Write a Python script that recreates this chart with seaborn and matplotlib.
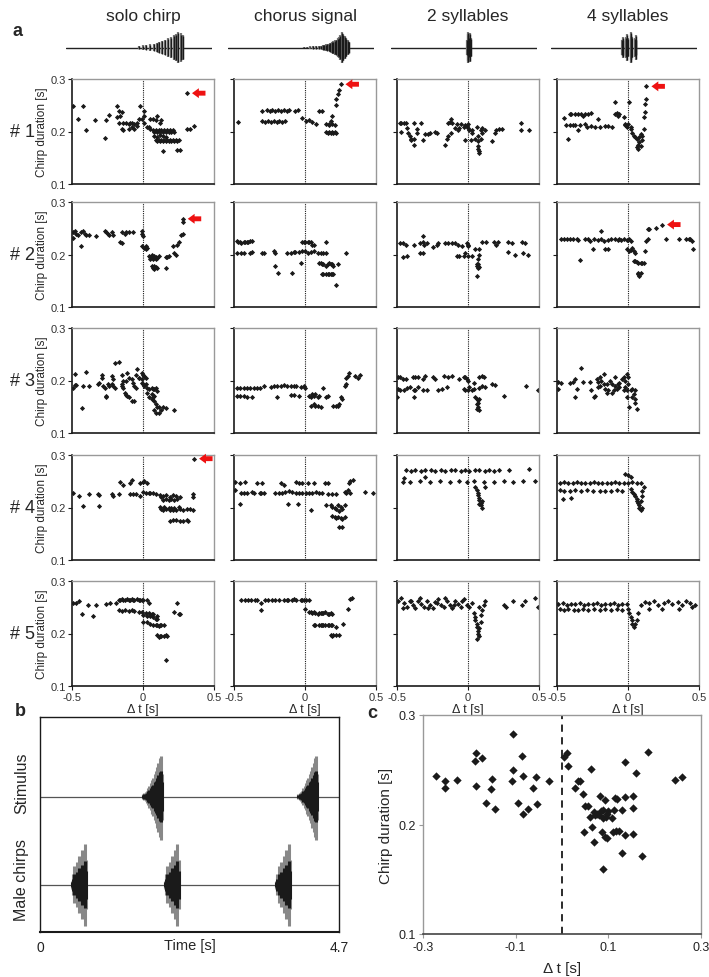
import matplotlib
matplotlib.use('Agg')
import matplotlib.pyplot as plt
import seaborn as sns
import pandas as pd

sns.set_theme(style='white')
plt.rcParams['font.family'] = ['Liberation Sans', 'DejaVu Sans']

# ---------------- data ----------------
stimuli = ['solo chirp', 'chorus signal', '2 syllables', '4 syllables']
males = ['# 1', '# 2', '# 3', '# 4', '# 5']

# oscillograms above panel a (relative time 0..1, relative amplitude)
wave_solo_t = [0.50, 0.525, 0.55, 0.575, 0.60, 0.62, 0.64, 0.66, 0.68, 0.70, 0.72, 0.74, 0.755, 0.77, 0.785, 0.80]
wave_solo_a = [0.10, 0.14, 0.16, 0.20, 0.24, 0.30, 0.36, 0.44, 0.52, 0.60, 0.70, 0.80, 0.90, 1.00, 0.92, 0.80]
wave_chorus_t = [0.52, 0.54, 0.56, 0.58, 0.60, 0.62, 0.635, 0.65, 0.66, 0.67, 0.68, 0.69, 0.70, 0.71, 0.72,
                 0.73, 0.74, 0.75, 0.76, 0.77, 0.78, 0.79, 0.80, 0.81, 0.82, 0.83]
wave_chorus_a = [0.04, 0.05, 0.07, 0.08, 0.10, 0.12, 0.13, 0.16, 0.18, 0.20, 0.24, 0.26, 0.30, 0.36, 0.42,
                 0.46, 0.52, 0.60, 0.70, 0.82, 1.00, 0.86, 0.74, 0.60, 0.48, 0.36]
wave_2syl_t = [0.52, 0.525, 0.53, 0.535, 0.54, 0.545]
wave_2syl_a = [0.50, 0.90, 1.00, 0.70, 0.95, 0.60]
wave_4syl_t = [0.485, 0.49, 0.495, 0.515, 0.52, 0.525, 0.545, 0.55, 0.555, 0.575, 0.58, 0.585]
wave_4syl_a = [0.50, 0.70, 0.55, 0.70, 0.90, 0.60, 0.80, 1.00, 0.70, 0.60, 0.80, 0.50]

# panel a scatter data: (delta t [s], chirp duration [s])
solo1 = [(-0.49, 0.249), (-0.46, 0.223), (-0.42, 0.249), (-0.40, 0.203), (-0.34, 0.222), (-0.27, 0.187),
         (-0.26, 0.222), (-0.24, 0.232), (-0.18, 0.249), (-0.17, 0.240), (-0.16, 0.230), (-0.15, 0.237),
         (-0.18, 0.227), (-0.17, 0.217), (-0.14, 0.217), (-0.12, 0.217), (-0.10, 0.214), (-0.09, 0.217),
         (-0.08, 0.217), (-0.06, 0.214), (-0.04, 0.217), (-0.03, 0.224), (-0.02, 0.249), (-0.01, 0.224),
         (-0.15, 0.205), (-0.14, 0.202), (-0.10, 0.205), (-0.08, 0.208), (-0.06, 0.205), (-0.04, 0.211),
         (0.01, 0.240), (0.01, 0.230), (0.01, 0.217), (0.03, 0.208), (0.04, 0.208), (0.05, 0.224),
         (0.07, 0.224), (0.09, 0.221), (0.10, 0.230), (0.12, 0.217), (0.13, 0.221), (0.05, 0.205),
         (0.07, 0.202), (0.08, 0.200), (0.09, 0.202), (0.10, 0.200), (0.11, 0.202), (0.12, 0.200),
         (0.13, 0.202), (0.14, 0.200), (0.15, 0.202), (0.16, 0.200), (0.17, 0.203), (0.18, 0.200),
         (0.19, 0.202), (0.20, 0.200), (0.21, 0.203), (0.22, 0.200), (0.08, 0.192), (0.10, 0.190),
         (0.12, 0.193), (0.14, 0.191), (0.16, 0.190), (0.09, 0.183), (0.10, 0.181), (0.11, 0.183),
         (0.12, 0.181), (0.13, 0.183), (0.14, 0.181), (0.15, 0.183), (0.16, 0.181), (0.17, 0.183),
         (0.18, 0.181), (0.19, 0.183), (0.20, 0.181), (0.21, 0.183), (0.22, 0.181), (0.23, 0.183),
         (0.24, 0.181), (0.25, 0.183), (0.14, 0.162), (0.24, 0.165), (0.26, 0.165), (0.31, 0.205),
         (0.33, 0.205), (0.36, 0.211), (0.31, 0.273)]
chorus1 = [(-0.47, 0.218), (-0.30, 0.240), (-0.27, 0.241), (-0.25, 0.240), (-0.23, 0.241), (-0.21, 0.240),
           (-0.19, 0.241), (-0.17, 0.240), (-0.15, 0.241), (-0.13, 0.240), (-0.11, 0.241), (-0.07, 0.240),
           (-0.05, 0.241), (-0.30, 0.220), (-0.28, 0.219), (-0.26, 0.220), (-0.24, 0.219), (-0.22, 0.220),
           (-0.20, 0.219), (-0.18, 0.220), (-0.16, 0.219), (-0.14, 0.220), (-0.02, 0.225), (0.01, 0.220),
           (0.03, 0.222), (0.05, 0.218), (0.08, 0.215), (0.10, 0.240), (0.12, 0.240), (0.15, 0.215),
           (0.17, 0.212), (0.18, 0.220), (0.19, 0.230), (0.15, 0.200), (0.16, 0.198), (0.17, 0.200),
           (0.18, 0.197), (0.19, 0.200), (0.20, 0.198), (0.21, 0.200), (0.22, 0.197), (0.17, 0.215),
           (0.19, 0.215), (0.21, 0.213), (0.22, 0.250), (0.22, 0.262), (0.23, 0.272), (0.24, 0.280),
           (0.25, 0.290)]
syl2_1 = [(-0.48, 0.217), (-0.47, 0.217), (-0.45, 0.217), (-0.44, 0.217), (-0.47, 0.200), (-0.43, 0.206),
          (-0.42, 0.198), (-0.41, 0.192), (-0.40, 0.186), (-0.40, 0.183), (-0.38, 0.174), (-0.38, 0.186),
          (-0.38, 0.216), (-0.36, 0.205), (-0.36, 0.198), (-0.33, 0.216), (-0.32, 0.184), (-0.30, 0.195),
          (-0.28, 0.195), (-0.27, 0.198), (-0.23, 0.200), (-0.22, 0.198), (-0.16, 0.174), (-0.15, 0.186),
          (-0.14, 0.192), (-0.14, 0.216), (-0.13, 0.219), (-0.12, 0.224), (-0.11, 0.217), (-0.12, 0.198),
          (-0.09, 0.206), (-0.08, 0.214), (-0.07, 0.203), (-0.06, 0.206), (-0.05, 0.214), (-0.03, 0.208),
          (-0.02, 0.212), (-0.01, 0.211), (-0.02, 0.183), (0.00, 0.206), (0.00, 0.214), (0.01, 0.202),
          (0.02, 0.183), (0.03, 0.202), (0.03, 0.198), (0.05, 0.186), (0.06, 0.208), (0.07, 0.192),
          (0.07, 0.181), (0.07, 0.173), (0.07, 0.167), (0.08, 0.160), (0.08, 0.163), (0.09, 0.203),
          (0.09, 0.186), (0.10, 0.206), (0.10, 0.198), (0.12, 0.203), (0.17, 0.181), (0.19, 0.198),
          (0.20, 0.202), (0.22, 0.205), (0.24, 0.205), (0.37, 0.216), (0.37, 0.203), (0.43, 0.203)]
syl4_1 = [(-0.45, 0.225), (-0.44, 0.213), (-0.42, 0.186), (-0.41, 0.213), (-0.39, 0.212), (-0.37, 0.212),
          (-0.35, 0.203), (-0.34, 0.212), (-0.41, 0.233), (-0.40, 0.233), (-0.37, 0.233), (-0.35, 0.233),
          (-0.33, 0.233), (-0.30, 0.233), (-0.28, 0.233), (-0.26, 0.235), (-0.32, 0.229), (-0.30, 0.214),
          (-0.29, 0.208), (-0.26, 0.211), (-0.23, 0.208), (-0.21, 0.224), (-0.20, 0.208), (-0.16, 0.210),
          (-0.14, 0.211), (-0.11, 0.208), (-0.09, 0.233), (-0.09, 0.256), (-0.08, 0.235), (-0.07, 0.230),
          (-0.06, 0.233), (-0.03, 0.227), (-0.02, 0.212), (-0.02, 0.214), (-0.01, 0.208), (0.00, 0.214),
          (0.01, 0.256), (0.02, 0.208), (0.02, 0.205), (0.03, 0.198), (0.04, 0.192), (0.05, 0.189),
          (0.06, 0.186), (0.06, 0.170), (0.07, 0.167), (0.07, 0.175), (0.08, 0.180), (0.09, 0.173),
          (0.08, 0.190), (0.09, 0.195), (0.10, 0.183), (0.10, 0.192), (0.11, 0.205), (0.11, 0.227),
          (0.12, 0.237), (0.12, 0.252), (0.13, 0.262), (0.13, 0.286)]

solo2 = [(-0.49, 0.242), (-0.48, 0.245), (-0.47, 0.240), (-0.46, 0.238), (-0.44, 0.242), (-0.42, 0.245),
         (-0.41, 0.240), (-0.40, 0.238), (-0.38, 0.238), (-0.33, 0.235), (-0.27, 0.245), (-0.26, 0.242),
         (-0.25, 0.240), (-0.24, 0.238), (-0.22, 0.242), (-0.21, 0.238), (-0.15, 0.243), (-0.13, 0.240),
         (-0.12, 0.243), (-0.10, 0.243), (-0.07, 0.243), (-0.49, 0.232), (-0.44, 0.216), (-0.16, 0.223),
         (-0.15, 0.221), (-0.01, 0.245), (-0.01, 0.240), (0.00, 0.235), (-0.01, 0.216), (0.01, 0.213),
         (0.02, 0.216), (0.03, 0.213), (0.02, 0.210), (0.04, 0.198), (0.05, 0.196), (0.06, 0.199),
         (0.07, 0.195), (0.08, 0.198), (0.09, 0.196), (0.10, 0.194), (0.11, 0.197), (0.05, 0.192),
         (0.07, 0.191), (0.09, 0.192), (0.06, 0.178), (0.07, 0.175), (0.08, 0.173), (0.09, 0.176),
         (0.10, 0.174), (0.08, 0.178), (0.16, 0.175), (0.16, 0.196), (0.17, 0.196), (0.18, 0.198),
         (0.21, 0.216), (0.22, 0.202), (0.23, 0.200), (0.24, 0.219), (0.25, 0.223), (0.27, 0.238),
         (0.28, 0.240), (0.28, 0.262), (0.28, 0.268)]
chorus2 = [(-0.48, 0.226), (-0.47, 0.223), (-0.46, 0.224), (-0.45, 0.221), (-0.43, 0.223), (-0.42, 0.224),
           (-0.41, 0.223), (-0.40, 0.224), (-0.39, 0.226), (-0.37, 0.226), (-0.48, 0.202), (-0.45, 0.203),
           (-0.43, 0.202), (-0.39, 0.203), (-0.37, 0.204), (-0.30, 0.202), (-0.29, 0.202), (-0.22, 0.207),
           (-0.21, 0.202), (-0.21, 0.179), (-0.19, 0.164), (-0.13, 0.202), (-0.10, 0.202), (-0.09, 0.164),
           (-0.08, 0.204), (-0.07, 0.204), (-0.04, 0.204), (-0.03, 0.183), (-0.02, 0.223), (-0.01, 0.223),
           (0.00, 0.224), (0.02, 0.223), (0.03, 0.224), (0.04, 0.224), (0.05, 0.219), (0.06, 0.219),
           (0.15, 0.224), (-0.02, 0.207), (0.00, 0.207), (0.02, 0.203), (0.04, 0.204), (0.06, 0.207),
           (0.09, 0.203), (0.11, 0.203), (0.13, 0.202), (0.15, 0.202), (0.10, 0.184), (0.11, 0.183),
           (0.12, 0.181), (0.13, 0.181), (0.15, 0.179), (0.16, 0.181), (0.17, 0.183), (0.18, 0.181),
           (0.19, 0.181), (0.20, 0.179), (0.23, 0.181), (0.12, 0.162), (0.13, 0.162), (0.15, 0.162),
           (0.16, 0.162), (0.17, 0.162), (0.18, 0.162), (0.19, 0.162), (0.20, 0.162), (0.22, 0.141),
           (0.29, 0.202)]
syl2_2 = [(-0.48, 0.221), (-0.46, 0.221), (-0.44, 0.219), (-0.38, 0.218), (-0.34, 0.221), (-0.32, 0.223),
          (-0.31, 0.219), (-0.29, 0.221), (-0.25, 0.214), (-0.22, 0.219), (-0.21, 0.221), (-0.16, 0.221),
          (-0.14, 0.221), (-0.11, 0.221), (-0.09, 0.221), (-0.07, 0.219), (-0.04, 0.216), (-0.01, 0.221),
          (0.00, 0.219), (0.00, 0.216), (0.10, 0.223), (0.13, 0.224), (0.18, 0.223), (0.20, 0.219),
          (0.21, 0.224), (0.28, 0.223), (0.31, 0.221), (0.38, 0.223), (0.40, 0.221), (-0.32, 0.235),
          (-0.46, 0.196), (-0.43, 0.198), (-0.34, 0.202), (-0.32, 0.203), (-0.08, 0.198), (-0.06, 0.198),
          (-0.03, 0.198), (-0.02, 0.202), (0.00, 0.198), (0.03, 0.198), (0.05, 0.210), (0.08, 0.211),
          (0.08, 0.200), (0.07, 0.191), (0.06, 0.181), (0.07, 0.178), (0.08, 0.176), (0.07, 0.175),
          (0.06, 0.160), (0.28, 0.205), (0.33, 0.200), (0.39, 0.203), (0.42, 0.199), (0.06, 0.178),
          (0.07, 0.181)]
syl4_2 = [(-0.47, 0.230), (-0.45, 0.230), (-0.43, 0.229), (-0.41, 0.229), (-0.39, 0.229), (-0.36, 0.229),
          (-0.35, 0.227), (-0.30, 0.229), (-0.28, 0.229), (-0.27, 0.226), (-0.24, 0.230), (-0.21, 0.228),
          (-0.19, 0.229), (-0.17, 0.226), (-0.14, 0.228), (-0.12, 0.229), (-0.09, 0.229), (-0.07, 0.228),
          (-0.06, 0.229), (-0.05, 0.228), (-0.03, 0.229), (-0.01, 0.228), (0.01, 0.229), (0.02, 0.226),
          (-0.19, 0.245), (-0.25, 0.210), (-0.16, 0.210), (-0.14, 0.210), (-0.34, 0.190), (-0.01, 0.210),
          (0.01, 0.207), (0.02, 0.209), (0.03, 0.213), (0.04, 0.207), (0.05, 0.203), (0.04, 0.188),
          (0.05, 0.188), (0.06, 0.186), (0.07, 0.184), (0.09, 0.184), (0.10, 0.183), (0.11, 0.183),
          (0.07, 0.165), (0.07, 0.162), (0.09, 0.165), (0.08, 0.159), (0.12, 0.207), (0.13, 0.226),
          (0.14, 0.229), (0.14, 0.248), (0.15, 0.249), (0.20, 0.251), (0.24, 0.257), (0.27, 0.229),
          (0.36, 0.230), (0.41, 0.230), (0.43, 0.230), (0.44, 0.229), (0.45, 0.226), (0.46, 0.211)]

solo3 = [(-0.49, 0.186), (-0.48, 0.191), (-0.47, 0.191), (-0.48, 0.213), (-0.43, 0.148), (-0.42, 0.189),
         (-0.40, 0.216), (-0.38, 0.189), (-0.32, 0.193), (-0.31, 0.196), (-0.29, 0.205), (-0.29, 0.211),
         (-0.28, 0.189), (-0.27, 0.186), (-0.26, 0.171), (-0.26, 0.168), (-0.25, 0.193), (-0.24, 0.189),
         (-0.22, 0.193), (-0.22, 0.208), (-0.21, 0.202), (-0.21, 0.189), (-0.20, 0.185), (-0.20, 0.233),
         (-0.17, 0.236), (-0.15, 0.210), (-0.15, 0.193), (-0.14, 0.186), (-0.13, 0.177), (-0.12, 0.173),
         (-0.11, 0.171), (-0.10, 0.168), (-0.08, 0.161), (-0.06, 0.161), (-0.15, 0.189), (-0.14, 0.199),
         (-0.12, 0.199), (-0.11, 0.214), (-0.10, 0.205), (-0.08, 0.202), (-0.07, 0.196), (-0.06, 0.189),
         (-0.05, 0.186), (-0.04, 0.221), (-0.05, 0.211), (-0.03, 0.205), (-0.01, 0.214), (0.00, 0.211),
         (0.01, 0.208), (0.02, 0.205), (-0.01, 0.196), (0.01, 0.189), (0.02, 0.193), (0.03, 0.186),
         (0.04, 0.183), (0.06, 0.186), (0.07, 0.183), (0.08, 0.183), (0.09, 0.186), (0.10, 0.180),
         (0.04, 0.168), (0.06, 0.164), (0.07, 0.168), (0.08, 0.161), (0.09, 0.155), (0.10, 0.149),
         (0.11, 0.149), (0.08, 0.144), (0.09, 0.139), (0.11, 0.139), (0.13, 0.143), (0.14, 0.149),
         (0.16, 0.148), (0.22, 0.144), (0.03, 0.177), (0.06, 0.174), (0.08, 0.171), (-0.03, 0.205),
         (-0.01, 0.202), (0.00, 0.193)]
chorus3 = [(-0.48, 0.186), (-0.46, 0.186), (-0.43, 0.185), (-0.41, 0.186), (-0.39, 0.185), (-0.36, 0.185),
           (-0.34, 0.186), (-0.32, 0.185), (-0.29, 0.189), (-0.24, 0.188), (-0.22, 0.189), (-0.20, 0.189),
           (-0.17, 0.189), (-0.15, 0.191), (-0.13, 0.189), (-0.10, 0.189), (-0.08, 0.189), (-0.06, 0.189),
           (-0.03, 0.188), (-0.01, 0.189), (0.00, 0.186), (-0.48, 0.171), (-0.46, 0.171), (-0.43, 0.171),
           (-0.41, 0.169), (-0.37, 0.168), (-0.20, 0.168), (-0.10, 0.173), (-0.08, 0.173), (-0.04, 0.171),
           (0.03, 0.171), (0.04, 0.168), (0.05, 0.174), (0.06, 0.171), (0.07, 0.174), (0.09, 0.168),
           (0.10, 0.171), (0.13, 0.185), (0.04, 0.152), (0.06, 0.155), (0.07, 0.152), (0.09, 0.152),
           (0.11, 0.149), (0.15, 0.168), (0.16, 0.171), (0.20, 0.152), (0.22, 0.152), (0.23, 0.152),
           (0.24, 0.155), (0.25, 0.168), (0.26, 0.164), (0.28, 0.189), (0.29, 0.193), (0.29, 0.205),
           (0.30, 0.208), (0.31, 0.214), (0.35, 0.208), (0.37, 0.205), (0.39, 0.211)]
syl2_3 = [(-0.49, 0.206), (-0.48, 0.207), (-0.46, 0.203), (-0.44, 0.203), (-0.39, 0.207), (-0.37, 0.207),
          (-0.35, 0.206), (-0.32, 0.203), (-0.30, 0.209), (-0.25, 0.207), (-0.23, 0.203), (-0.17, 0.209),
          (-0.14, 0.207), (-0.11, 0.209), (-0.06, 0.203), (-0.03, 0.206), (-0.02, 0.207), (-0.01, 0.203),
          (0.08, 0.207), (0.10, 0.209), (0.11, 0.207), (-0.49, 0.184), (-0.48, 0.181), (-0.45, 0.181),
          (-0.43, 0.186), (-0.41, 0.187), (-0.38, 0.181), (-0.37, 0.181), (-0.35, 0.187), (-0.32, 0.181),
          (-0.29, 0.181), (-0.21, 0.181), (-0.18, 0.184), (-0.15, 0.188), (-0.03, 0.184), (-0.02, 0.181),
          (0.00, 0.181), (0.01, 0.187), (0.03, 0.181), (0.04, 0.184), (0.08, 0.186), (0.10, 0.190),
          (0.12, 0.187), (0.17, 0.193), (0.19, 0.192), (0.41, 0.190), (0.49, 0.182), (-0.50, 0.169),
          (-0.38, 0.168), (0.00, 0.199), (0.04, 0.196), (0.05, 0.168), (0.06, 0.165), (0.07, 0.162),
          (0.06, 0.155), (0.07, 0.149), (0.08, 0.143), (0.07, 0.158), (0.08, 0.165), (0.06, 0.146),
          (0.25, 0.171)]
syl4_3 = [(-0.49, 0.198), (-0.47, 0.196), (-0.49, 0.184), (-0.41, 0.196), (-0.39, 0.198), (-0.37, 0.203),
          (-0.36, 0.184), (-0.37, 0.168), (-0.33, 0.223), (-0.32, 0.198), (-0.27, 0.198), (-0.26, 0.181),
          (-0.24, 0.168), (-0.23, 0.171), (-0.22, 0.203), (-0.21, 0.198), (-0.20, 0.206), (-0.19, 0.199),
          (-0.17, 0.213), (-0.17, 0.193), (-0.16, 0.184), (-0.15, 0.177), (-0.14, 0.181), (-0.13, 0.199),
          (-0.11, 0.177), (-0.10, 0.181), (-0.09, 0.206), (-0.09, 0.190), (-0.08, 0.184), (-0.07, 0.193),
          (-0.06, 0.187), (-0.04, 0.203), (-0.03, 0.206), (-0.02, 0.199), (-0.02, 0.187), (-0.01, 0.212),
          (0.00, 0.206), (-0.01, 0.168), (0.00, 0.193), (0.01, 0.149), (0.02, 0.181), (0.03, 0.168),
          (0.04, 0.174), (0.05, 0.165), (0.05, 0.158), (0.06, 0.146), (0.05, 0.181), (-0.21, 0.187),
          (-0.20, 0.190), (-0.15, 0.193), (-0.11, 0.193), (-0.06, 0.196), (-0.03, 0.181), (-0.01, 0.181),
          (0.03, 0.184)]

solo4 = [(-0.49, 0.227), (-0.45, 0.221), (-0.42, 0.203), (-0.38, 0.225), (-0.32, 0.225), (-0.31, 0.223),
         (-0.31, 0.202), (-0.22, 0.225), (-0.21, 0.221), (-0.17, 0.225), (-0.16, 0.249), (-0.14, 0.243),
         (-0.09, 0.247), (-0.08, 0.253), (-0.09, 0.225), (-0.07, 0.225), (-0.05, 0.225), (-0.02, 0.247),
         (0.00, 0.249), (0.01, 0.251), (0.03, 0.246), (-0.02, 0.222), (0.00, 0.230), (0.02, 0.228),
         (0.04, 0.228), (0.05, 0.227), (0.07, 0.227), (0.09, 0.225), (0.12, 0.223), (0.13, 0.220),
         (0.14, 0.221), (0.16, 0.223), (0.19, 0.220), (0.21, 0.223), (0.23, 0.221), (0.26, 0.220),
         (0.14, 0.214), (0.16, 0.216), (0.18, 0.214), (0.20, 0.216), (0.22, 0.214), (0.24, 0.216),
         (0.12, 0.201), (0.13, 0.197), (0.14, 0.195), (0.16, 0.197), (0.19, 0.195), (0.21, 0.195),
         (0.23, 0.195), (0.26, 0.197), (0.28, 0.195), (0.31, 0.197), (0.33, 0.197), (0.35, 0.195),
         (0.15, 0.201), (0.18, 0.199), (0.20, 0.199), (0.22, 0.199), (0.25, 0.201), (0.19, 0.175),
         (0.21, 0.176), (0.23, 0.176), (0.26, 0.175), (0.28, 0.175), (0.31, 0.176), (0.32, 0.175),
         (0.35, 0.225), (0.35, 0.220), (0.36, 0.293)]
chorus4 = [(-0.49, 0.249), (-0.46, 0.247), (-0.42, 0.249), (-0.34, 0.247), (-0.30, 0.247), (-0.17, 0.246),
           (-0.15, 0.243), (-0.06, 0.249), (-0.04, 0.247), (-0.02, 0.247), (0.02, 0.246), (0.06, 0.246),
           (0.14, 0.247), (0.16, 0.247), (0.31, 0.247), (0.32, 0.251), (0.34, 0.253), (-0.49, 0.233),
           (-0.45, 0.228), (-0.43, 0.228), (-0.41, 0.227), (-0.37, 0.230), (-0.36, 0.227), (-0.32, 0.228),
           (-0.31, 0.228), (-0.29, 0.228), (-0.21, 0.228), (-0.18, 0.227), (-0.16, 0.228), (-0.14, 0.230),
           (-0.11, 0.231), (-0.09, 0.230), (-0.06, 0.227), (-0.04, 0.228), (-0.02, 0.227), (0.01, 0.228),
           (0.03, 0.228), (0.05, 0.227), (0.08, 0.230), (0.10, 0.227), (0.12, 0.227), (0.16, 0.225),
           (0.19, 0.225), (0.22, 0.225), (0.28, 0.230), (0.29, 0.227), (0.30, 0.233), (0.32, 0.228),
           (0.42, 0.230), (0.48, 0.228), (-0.46, 0.206), (-0.12, 0.206), (-0.05, 0.206), (0.04, 0.196),
           (0.15, 0.204), (0.18, 0.204), (0.19, 0.201), (0.21, 0.199), (0.22, 0.197), (0.23, 0.204),
           (0.24, 0.194), (0.25, 0.201), (0.26, 0.197), (0.28, 0.204), (0.19, 0.184), (0.21, 0.181),
           (0.22, 0.180), (0.23, 0.182), (0.25, 0.180), (0.26, 0.178), (0.28, 0.181), (0.24, 0.163),
           (0.26, 0.162)]
syl2_4 = [(-0.44, 0.271), (-0.40, 0.269), (-0.37, 0.271), (-0.33, 0.270), (-0.30, 0.271), (-0.26, 0.271),
          (-0.23, 0.269), (-0.19, 0.271), (-0.16, 0.270), (-0.12, 0.271), (-0.09, 0.271), (-0.05, 0.270),
          (-0.02, 0.271), (0.01, 0.269), (0.05, 0.271), (0.08, 0.271), (0.12, 0.270), (0.15, 0.271),
          (0.18, 0.270), (0.22, 0.271), (0.29, 0.271), (0.43, 0.273), (-0.46, 0.249), (-0.41, 0.249),
          (-0.34, 0.251), (-0.27, 0.249), (-0.20, 0.250), (-0.13, 0.249), (-0.06, 0.250), (-0.01, 0.249),
          (0.04, 0.251), (0.11, 0.249), (0.18, 0.249), (0.25, 0.250), (0.32, 0.249), (0.39, 0.250),
          (-0.45, 0.256), (-0.30, 0.258), (0.47, 0.250), (0.05, 0.240), (0.06, 0.233), (0.07, 0.228),
          (0.07, 0.224), (0.08, 0.219), (0.08, 0.214), (0.09, 0.209), (0.09, 0.204), (0.10, 0.200),
          (0.08, 0.206), (0.10, 0.212), (0.12, 0.240)]
syl4_4 = [(-0.48, 0.247), (-0.45, 0.248), (-0.42, 0.246), (-0.39, 0.247), (-0.36, 0.248), (-0.33, 0.247),
          (-0.30, 0.246), (-0.27, 0.247), (-0.24, 0.248), (-0.21, 0.246), (-0.18, 0.247), (-0.15, 0.247),
          (-0.12, 0.246), (-0.09, 0.248), (-0.06, 0.247), (-0.03, 0.246), (0.00, 0.247), (0.03, 0.248),
          (0.06, 0.246), (0.09, 0.247), (-0.48, 0.233), (-0.45, 0.231), (-0.41, 0.232), (-0.37, 0.234),
          (-0.33, 0.232), (-0.29, 0.233), (-0.25, 0.231), (-0.20, 0.232), (-0.16, 0.232), (-0.12, 0.231),
          (-0.08, 0.233), (-0.04, 0.232), (-0.46, 0.216), (-0.40, 0.219), (-0.02, 0.264), (0.00, 0.262),
          (0.02, 0.258), (0.02, 0.236), (0.03, 0.230), (0.04, 0.226), (0.05, 0.222), (0.06, 0.217),
          (0.06, 0.212), (0.07, 0.208), (0.08, 0.204), (0.08, 0.199), (0.09, 0.196), (0.10, 0.200),
          (0.09, 0.213), (0.10, 0.222), (0.10, 0.232), (0.11, 0.240)]

solo5 = [(-0.49, 0.258), (-0.47, 0.258), (-0.45, 0.261), (-0.43, 0.238), (-0.39, 0.254), (-0.35, 0.233),
         (-0.33, 0.254), (-0.26, 0.256), (-0.23, 0.258), (-0.19, 0.259), (-0.17, 0.264), (-0.16, 0.263),
         (-0.15, 0.266), (-0.14, 0.263), (-0.13, 0.264), (-0.11, 0.266), (-0.10, 0.263), (-0.09, 0.264),
         (-0.08, 0.266), (-0.07, 0.263), (-0.06, 0.264), (-0.04, 0.266), (-0.03, 0.263), (-0.02, 0.264),
         (-0.01, 0.263), (0.00, 0.264), (0.03, 0.263), (0.04, 0.259), (-0.17, 0.244), (-0.15, 0.242),
         (-0.13, 0.244), (-0.10, 0.242), (-0.08, 0.244), (-0.06, 0.242), (-0.03, 0.241), (-0.01, 0.241),
         (0.02, 0.239), (0.04, 0.239), (0.06, 0.238), (0.07, 0.238), (0.10, 0.233), (0.00, 0.236),
         (0.03, 0.234), (0.05, 0.233), (0.07, 0.231), (0.09, 0.228), (0.10, 0.228), (0.00, 0.221),
         (0.03, 0.221), (0.05, 0.219), (0.07, 0.217), (0.09, 0.217), (0.10, 0.216), (0.11, 0.214),
         (0.12, 0.216), (0.13, 0.217), (0.15, 0.216), (0.10, 0.197), (0.11, 0.194), (0.12, 0.196),
         (0.13, 0.196), (0.15, 0.196), (0.16, 0.197), (0.17, 0.196), (0.16, 0.150), (0.22, 0.241),
         (0.24, 0.258), (0.25, 0.238), (0.26, 0.238)]
chorus5 = [(-0.45, 0.263), (-0.42, 0.263), (-0.40, 0.263), (-0.38, 0.263), (-0.35, 0.264), (-0.34, 0.263),
           (-0.31, 0.259), (-0.28, 0.263), (-0.26, 0.263), (-0.23, 0.263), (-0.21, 0.263), (-0.18, 0.263),
           (-0.15, 0.263), (-0.13, 0.264), (-0.12, 0.263), (-0.09, 0.264), (-0.08, 0.266), (-0.06, 0.263),
           (-0.03, 0.264), (-0.02, 0.263), (-0.01, 0.263), (0.01, 0.263), (0.03, 0.263), (-0.31, 0.244),
           (0.00, 0.246), (0.03, 0.241), (0.04, 0.241), (0.05, 0.239), (0.06, 0.241), (0.07, 0.239),
           (0.09, 0.238), (0.10, 0.239), (0.11, 0.239), (0.12, 0.239), (0.13, 0.239), (0.14, 0.241),
           (0.16, 0.238), (0.17, 0.238), (0.18, 0.239), (0.19, 0.238), (0.06, 0.217), (0.07, 0.217),
           (0.10, 0.217), (0.11, 0.217), (0.12, 0.217), (0.13, 0.217), (0.14, 0.217), (0.16, 0.217),
           (0.17, 0.216), (0.18, 0.216), (0.19, 0.216), (0.22, 0.213), (0.18, 0.197), (0.19, 0.196),
           (0.20, 0.197), (0.22, 0.197), (0.24, 0.197), (0.27, 0.219), (0.30, 0.246), (0.32, 0.266),
           (0.33, 0.268)]
syl2_5 = [(-0.49, 0.262), (-0.47, 0.268), (-0.45, 0.258), (-0.43, 0.250), (-0.41, 0.262), (-0.39, 0.255),
          (-0.37, 0.248), (-0.35, 0.262), (-0.33, 0.256), (-0.31, 0.250), (-0.29, 0.262), (-0.27, 0.255),
          (-0.25, 0.248), (-0.23, 0.260), (-0.21, 0.266), (-0.19, 0.255), (-0.17, 0.250), (-0.15, 0.262),
          (-0.13, 0.255), (-0.11, 0.248), (-0.09, 0.262), (-0.07, 0.256), (-0.05, 0.250), (-0.03, 0.266),
          (-0.01, 0.255), (0.01, 0.250), (0.03, 0.258), (-0.46, 0.248), (-0.40, 0.262), (-0.34, 0.268),
          (-0.28, 0.248), (-0.22, 0.258), (-0.16, 0.268), (-0.10, 0.255), (-0.04, 0.262), (0.04, 0.240),
          (0.05, 0.232), (0.05, 0.225), (0.06, 0.218), (0.06, 0.212), (0.07, 0.205), (0.07, 0.200),
          (0.08, 0.195), (0.06, 0.190), (0.08, 0.210), (0.09, 0.222), (0.09, 0.235), (0.10, 0.245),
          (0.11, 0.255), (0.12, 0.262), (0.08, 0.250), (0.25, 0.255), (0.27, 0.250), (0.32, 0.262),
          (0.38, 0.255), (0.40, 0.262), (0.47, 0.268), (0.49, 0.250)]
syl4_5 = [(-0.49, 0.256), (-0.46, 0.258), (-0.43, 0.255), (-0.40, 0.257), (-0.37, 0.256), (-0.34, 0.258),
          (-0.31, 0.255), (-0.28, 0.257), (-0.25, 0.256), (-0.22, 0.258), (-0.19, 0.255), (-0.16, 0.257),
          (-0.13, 0.256), (-0.10, 0.258), (-0.07, 0.255), (-0.04, 0.257), (-0.01, 0.256), (-0.48, 0.246),
          (-0.45, 0.244), (-0.42, 0.247), (-0.38, 0.245), (-0.35, 0.244), (-0.32, 0.246), (-0.28, 0.245),
          (-0.24, 0.247), (-0.20, 0.244), (-0.16, 0.246), (-0.12, 0.245), (-0.08, 0.247), (-0.04, 0.244),
          (0.00, 0.246), (0.01, 0.240), (0.02, 0.232), (0.03, 0.225), (0.03, 0.218), (0.04, 0.213),
          (0.05, 0.218), (0.06, 0.225), (0.07, 0.240), (0.09, 0.255), (0.12, 0.260), (0.15, 0.258),
          (0.18, 0.262), (0.21, 0.255), (0.25, 0.258), (0.28, 0.262), (0.31, 0.256), (0.35, 0.260),
          (0.38, 0.255), (0.41, 0.262), (0.44, 0.258), (0.47, 0.255), (0.15, 0.246), (0.24, 0.246),
          (0.36, 0.246), (0.45, 0.250)]

grid_data = [[solo1, chorus1, syl2_1, syl4_1],
             [solo2, chorus2, syl2_2, syl4_2],
             [solo3, chorus3, syl2_3, syl4_3],
             [solo4, chorus4, syl2_4, syl4_4],
             [solo5, chorus5, syl2_5, syl4_5]]

# red arrows: (row, col, delta t, duration) of the marked chirp
arrow_marks = [(0, 0, 0.31, 0.273), (0, 1, 0.25, 0.290), (0, 3, 0.13, 0.286),
               (1, 0, 0.28, 0.268), (1, 3, 0.24, 0.257), (3, 0, 0.36, 0.293)]

# panel b: oscillogram, chirp onsets [s] plus syllable offsets / amplitudes
stim_onsets = [1.62, 4.06]
stim_offsets = [0.00, 0.02, 0.04, 0.06, 0.08, 0.10, 0.12, 0.14, 0.16, 0.18, 0.20, 0.22, 0.24, 0.26, 0.28, 0.30]
stim_amps = [0.06, 0.09, 0.10, 0.14, 0.20, 0.26, 0.32, 0.40, 0.46, 0.55, 0.62, 0.72, 0.82, 0.95, 1.00, 0.55]
male_onsets = [0.50, 1.96, 3.71]
male_offsets = [0.00, 0.02, 0.04, 0.06, 0.08, 0.10, 0.12, 0.14, 0.16, 0.18, 0.20, 0.22]
male_amps = [0.10, 0.25, 0.45, 0.35, 0.55, 0.50, 0.70, 0.65, 0.85, 0.80, 1.00, 0.60]

# panel c
c_dt = [-0.273, -0.252, -0.252, -0.226, -0.186, -0.188, -0.172, -0.185, -0.163, -0.154, -0.152, -0.145,
        -0.107, -0.105, -0.096, -0.086, -0.085, -0.084, -0.073, -0.062, -0.057, -0.053, -0.027, 0.005,
        0.011, 0.014, 0.028, 0.035, 0.039, 0.045, 0.050, 0.048, 0.057, 0.060, 0.063, 0.064, 0.068, 0.070,
        0.071, 0.075, 0.079, 0.082, 0.084, 0.086, 0.088, 0.089, 0.092, 0.093, 0.095, 0.097, 0.098, 0.100,
        0.107, 0.110, 0.112, 0.115, 0.117, 0.118, 0.122, 0.129, 0.129, 0.136, 0.136, 0.136, 0.153, 0.154,
        0.154, 0.159, 0.172, 0.185, 0.243, 0.260, 0.089, -0.105]
c_dur = [0.244, 0.240, 0.233, 0.241, 0.265, 0.258, 0.261, 0.235, 0.220, 0.232, 0.242, 0.214,
         0.240, 0.250, 0.220, 0.263, 0.244, 0.210, 0.214, 0.233, 0.243, 0.219, 0.240, 0.262,
         0.265, 0.253, 0.233, 0.240, 0.240, 0.228, 0.217, 0.193, 0.217, 0.207, 0.251, 0.198, 0.211, 0.184,
         0.209, 0.210, 0.209, 0.226, 0.212, 0.193, 0.206, 0.213, 0.222, 0.189, 0.207, 0.188, 0.210, 0.212,
         0.206, 0.193, 0.213, 0.224, 0.194, 0.223, 0.194, 0.213, 0.174, 0.257, 0.225, 0.190, 0.215, 0.226,
         0.191, 0.247, 0.171, 0.266, 0.241, 0.243, 0.159, 0.283]

# ---------------- layout (pixels) ----------------
W, H = 709, 978
col_left = [72, 234, 397, 557]
col_w = 142
row_top = [80, 203, 329, 456, 582]
row_h = 105
tick_c = '#333333'
frame_c = '#999999'

fig = plt.figure(figsize=(W / 100, H / 100), dpi=100)


def add_ax(x0, y0, w, h):
    return fig.add_axes([x0 / W, 1 - (y0 + h) / H, w / W, h / H])


def style_frame(ax):
    for s in ['top', 'right']:
        ax.spines[s].set_color(frame_c)
        ax.spines[s].set_linewidth(1.0)
    for s in ['left', 'bottom']:
        ax.spines[s].set_color('k')
        ax.spines[s].set_linewidth(1.2)
    ax.tick_params(axis='both', which='both', direction='out', length=3, width=0.8,
                   colors='k', labelcolor=tick_c, left=True, bottom=True, pad=1)


# oscillograms
waves = [(wave_solo_t, wave_solo_a), (wave_chorus_t, wave_chorus_a),
         (wave_2syl_t, wave_2syl_a), (wave_4syl_t, wave_4syl_a)]
for j, (t, a) in enumerate(waves):
    wx = add_ax(col_left[j] - 6, 33, col_w + 4, 31)
    wx.axhline(0, color='#222222', lw=1.0)
    wx.vlines(t, [-v * 1.08 for v in a], [v * 1.08 for v in a], color='#777777', lw=1.6)
    wx.vlines(t, [-v for v in a], a, color='k', lw=1.0)
    wx.set_xlim(0, 1)
    wx.set_ylim(-1.1, 1.1)
    wx.axis('off')
    fig.text((col_left[j] + col_w / 2) / W, 1 - 16 / H, stimuli[j], ha='center', va='center', fontsize=12.5)

fig.text(12 / W, 1 - 31 / H, 'a', fontsize=13, fontweight='bold', ha='left', va='center')

# panel a grid
arrow_style = 'simple,head_length=0.45,head_width=0.65,tail_width=0.32'
for i in range(5):
    for j in range(4):
        ax = add_ax(col_left[j], row_top[i], col_w, row_h)
        df = pd.DataFrame(grid_data[i][j], columns=['dt', 'dur'])
        sns.scatterplot(data=df, x='dt', y='dur', marker='D', s=7, color='k', linewidth=0, ax=ax)
        ax.axvline(0, color='k', ls=(0, (1, 1)), lw=0.8)
        ax.set_xlim(-0.5, 0.5)
        ax.set_ylim(0.1, 0.3)
        ax.set_xticks([-0.5, 0, 0.5])
        ax.set_yticks([0.1, 0.2, 0.3])
        style_frame(ax)
        ax.set_xlabel('')
        ax.set_ylabel('')
        if j == 0:
            ax.set_yticklabels(['0.1', '0.2', '0.3'], fontsize=8)
            ax.set_ylabel('Chirp duration [s]', fontsize=8.5, labelpad=2)
        else:
            ax.set_yticklabels([])
        if i == 4:
            ax.set_xticklabels(['-0.5', '0', '0.5'], fontsize=8)
            ax.set_xlabel('\u0394 t [s]', fontsize=9, labelpad=1)
        else:
            ax.set_xticklabels([])
            ax.tick_params(axis='x', length=0)
        for (r, c, x, y) in arrow_marks:
            if r == i and c == j:
                ax.annotate('', xy=(x + 0.035, y), xytext=(x + 0.13, y),
                            arrowprops=dict(arrowstyle=arrow_style, color='#ee1111', lw=0,
                                            shrinkA=0, shrinkB=0, mutation_scale=11))
    fig.text(22 / W, 1 - (row_top[i] + row_h / 2) / H, males[i], ha='center', va='center', fontsize=13)

# panel b
bx = add_ax(40, 718, 299, 215)
stim_base, male_base = 0.63, 0.22
bx.axhline(stim_base, color='#555555', lw=0.9)
bx.axhline(male_base, color='#555555', lw=0.9)
for onset in stim_onsets:
    ts = [onset + o for o in stim_offsets]
    bx.vlines(ts, [stim_base - 0.20 * a for a in stim_amps], [stim_base + 0.19 * a for a in stim_amps],
              color='#888888', lw=2.2)
    bx.vlines(ts, [stim_base - 0.12 * a for a in stim_amps], [stim_base + 0.12 * a for a in stim_amps],
              color='k', lw=2.2)
for onset in male_onsets:
    ts = [onset + o for o in male_offsets]
    bx.vlines(ts, [male_base - 0.19 * a for a in male_amps], [male_base + 0.19 * a for a in male_amps],
              color='#888888', lw=2.2)
    bx.vlines(ts, [male_base - 0.11 * a for a in male_amps], [male_base + 0.11 * a for a in male_amps],
              color='k', lw=2.2)
bx.set_xlim(0, 4.7)
bx.set_ylim(0, 1)
bx.set_yticks([])
bx.set_xticks([0, 4.7])
bx.set_xticklabels(['0', '4.7'], fontsize=10)
for s in bx.spines.values():
    s.set_color('k')
    s.set_linewidth(1.0)
bx.spines['bottom'].set_linewidth(1.5)
bx.tick_params(axis='x', direction='out', length=4, width=1, colors='k', labelcolor='#222222', pad=2)
bx.set_xlabel('Time [s]', fontsize=10.5, labelpad=-12)
fig.text(22 / W, 1 - 783 / H, 'Stimulus', rotation=90, ha='center', va='center', fontsize=11.5)
fig.text(22 / W, 1 - 880 / H, 'Male chirps', rotation=90, ha='center', va='center', fontsize=11.5)
fig.text(20 / W, 1 - 712 / H, 'b', fontsize=13, fontweight='bold', ha='center', va='center')

# panel c
cx = add_ax(423, 716, 278, 219)
cdf = pd.DataFrame({'dt': c_dt, 'dur': c_dur})
sns.scatterplot(data=cdf, x='dt', y='dur', marker='D', s=18, color='k', linewidth=0, ax=cx)
cx.axvline(0, color='k', ls=(0, (4, 3)), lw=1.3)
cx.set_xlim(-0.3, 0.3)
cx.set_ylim(0.1, 0.3)
cx.set_xticks([-0.3, -0.1, 0.1, 0.3])
cx.set_xticklabels(['-0.3', '-0.1', '0.1', '0.3'], fontsize=9)
cx.set_yticks([0.1, 0.2, 0.3])
cx.set_yticklabels(['0.1', '0.2', '0.3'], fontsize=9)
for s in cx.spines.values():
    s.set_color(frame_c)
    s.set_linewidth(1.0)
cx.spines['bottom'].set_color('#444444')
cx.spines['bottom'].set_linewidth(1.2)
cx.tick_params(axis='both', direction='out', length=3, width=0.8, colors=frame_c, labelcolor='#222222',
               left=True, bottom=True, pad=2)
cx.set_xlabel('\u0394 t [s]', fontsize=11, labelpad=6)
cx.set_ylabel('Chirp duration [s]', fontsize=11, labelpad=4)
fig.text(372 / W, 1 - 714 / H, 'c', fontsize=13, fontweight='bold', ha='center', va='center')

fig.savefig('out.png', dpi=100)
